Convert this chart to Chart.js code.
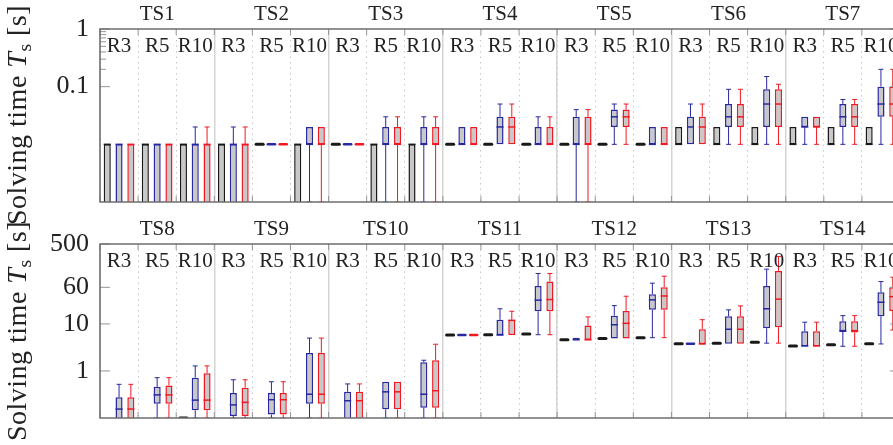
<!DOCTYPE html>
<html>
<head>
<meta charset="utf-8">
<script src="https://cdn.jsdelivr.net/npm/chart.js@4.4.1/dist/chart.umd.min.js"></script>
<style>
  html, body { margin: 0; padding: 0; background: #fff; overflow: hidden; }
  #wrap { position: relative; width: 893px; height: 445px; overflow: hidden; }
  canvas { position: absolute; left: 0; }
  #topChart { top: 0; }
  #botChart { top: 210px; }
  .ytitle {
    position: absolute; left: 17px;
    transform: translate(-50%, -50%) rotate(-90deg);
    white-space: nowrap; font: 28px "Liberation Serif", serif; color: #222;
    letter-spacing: 0.5px; line-height: 1; z-index: 2;
  }
  .ytitle sub { font-size: 0.7em; vertical-align: -0.25em; line-height: 0; }
</style>
</head>
<body>
<div id="wrap">
  <canvas id="topChart" width="900" height="210"></canvas>
  <canvas id="botChart" width="900" height="235"></canvas>
  <div class="ytitle" style="top:115px">Solving time <i>T</i><sub>s</sub> [s]</div>
  <div class="ytitle" style="top:331px">Solving time <i>T</i><sub>s</sub> [s]</div>
</div>
<script>
// group names
const topSets = ['TS1', 'TS2', 'TS3', 'TS4', 'TS5', 'TS6', 'TS7'];
const botSets = ['TS8', 'TS9', 'TS10', 'TS11', 'TS12', 'TS13', 'TS14'];
const runs = ['R3', 'R5', 'R10'];

// y ticks
const topTicks = [0.1, 1];
const topMinor = [0.2, 0.3, 0.4, 0.5, 0.6, 0.7, 0.8, 0.9];
const botTicks = [1, 10, 60, 500];
const botMinor = [];

// box stats per slot: [min, q1, median, q3, max]   (0 = below axis)
const topBlack = [
  [0, 0, 0.01, 0.01, 0.01], [0, 0, 0.01, 0.01, 0.01], [0, 0, 0.01, 0.01, 0.01],
  [0, 0, 0.01, 0.01, 0.01], [0.01, 0.01, 0.01, 0.01, 0.01], [0, 0, 0.01, 0.01, 0.01],
  [0.01, 0.01, 0.01, 0.01, 0.01], [0, 0, 0.01, 0.01, 0.01], [0, 0, 0.01, 0.01, 0.01],
  [0.01, 0.01, 0.01, 0.01, 0.01], [0.01, 0.01, 0.01, 0.01, 0.01], [0.01, 0.01, 0.01, 0.01, 0.01],
  [0.01, 0.01, 0.01, 0.01, 0.01], [0.01, 0.01, 0.01, 0.01, 0.01], [0.01, 0.01, 0.01, 0.01, 0.01],
  [0.01, 0.01, 0.01, 0.02, 0.02], [0.01, 0.01, 0.01, 0.02, 0.02], [0.01, 0.01, 0.01, 0.02, 0.02],
  [0.01, 0.01, 0.01, 0.02, 0.02], [0.01, 0.01, 0.01, 0.02, 0.02], [0.01, 0.01, 0.01, 0.02, 0.02]
];
const topBlue = [
  [0, 0, 0.01, 0.01, 0.01], [0, 0, 0.01, 0.01, 0.01], [0, 0, 0.01, 0.01, 0.02],
  [0, 0, 0.01, 0.01, 0.02], [0.01, 0.01, 0.01, 0.01, 0.01], [0, 0.01, 0.01, 0.02, 0.02],
  [0.01, 0.01, 0.01, 0.01, 0.01], [0, 0.01, 0.01, 0.02, 0.03], [0, 0.01, 0.01, 0.02, 0.03],
  [0.01, 0.01, 0.01, 0.02, 0.02], [0.01, 0.01, 0.02, 0.03, 0.05], [0.01, 0.01, 0.01, 0.02, 0.03],
  [0, 0.01, 0.01, 0.03, 0.04], [0.01, 0.02, 0.03, 0.04, 0.05], [0.01, 0.01, 0.01, 0.02, 0.02],
  [0.01, 0.01, 0.02, 0.03, 0.05], [0.01, 0.02, 0.03, 0.05, 0.09], [0.01, 0.02, 0.05, 0.09, 0.15],
  [0.01, 0.02, 0.02, 0.03, 0.03], [0.01, 0.02, 0.03, 0.05, 0.06], [0.01, 0.03, 0.05, 0.1, 0.2]
];
const topRed = [
  [0, 0, 0.01, 0.01, 0.01], [0, 0, 0.01, 0.01, 0.01], [0, 0, 0.01, 0.01, 0.02],
  [0, 0, 0.01, 0.01, 0.02], [0.01, 0.01, 0.01, 0.01, 0.01], [0, 0.01, 0.01, 0.02, 0.02],
  [0.01, 0.01, 0.01, 0.01, 0.01], [0, 0.01, 0.01, 0.02, 0.03], [0, 0.01, 0.01, 0.02, 0.03],
  [0.01, 0.01, 0.01, 0.02, 0.02], [0.01, 0.01, 0.02, 0.03, 0.05], [0.01, 0.01, 0.01, 0.02, 0.03],
  [0, 0.01, 0.01, 0.03, 0.04], [0.01, 0.02, 0.03, 0.04, 0.05], [0.01, 0.01, 0.01, 0.02, 0.02],
  [0.01, 0.01, 0.02, 0.03, 0.05], [0.01, 0.02, 0.03, 0.05, 0.09], [0.01, 0.02, 0.05, 0.09, 0.11],
  [0.01, 0.02, 0.02, 0.03, 0.03], [0.01, 0.02, 0.03, 0.05, 0.06], [0.01, 0.03, 0.05, 0.1, 0.2]
];

const botBlack = [
  null, null, [0.1, 0.1, 0.1, 0.1, 0.1],
  null, null, null,
  null, null, null,
  [5.8, 5.8, 5.8, 5.8, 5.8], [5.9, 5.9, 5.9, 5.9, 5.9], [6.1, 6.1, 6.1, 6.1, 6.1],
  [4.6, 4.6, 4.6, 4.6, 4.6], [4.9, 4.9, 4.9, 4.9, 4.9], [5.1, 5.1, 5.1, 5.1, 5.1],
  [3.8, 3.8, 3.8, 3.8, 3.8], [3.9, 3.9, 3.9, 3.9, 3.9], [4.1, 4.1, 4.1, 4.1, 4.1],
  [3.4, 3.4, 3.4, 3.4, 3.4], [3.6, 3.6, 3.6, 3.6, 3.6], [3.8, 3.8, 3.8, 3.8, 3.8]
];
const botBlue = [
  [0, 0, 0.155, 0.275, 0.52], [0, 0.2, 0.31, 0.46, 0.72], [0, 0.146, 0.24, 0.72, 1.28],
  [0, 0.11, 0.19, 0.34, 0.65], [0, 0.118, 0.245, 0.34, 0.59], [0, 0.2, 0.32, 2.42, 5],
  [0, 0, 0.233, 0.36, 0.53], [0, 0.153, 0.36, 0.59, 0.59], [0, 0.166, 0.32, 1.53, 1.69],
  [5.8, 5.8, 5.8, 5.8, 5.8], [5.8, 5.8, 5.8, 12.2, 21], [5.9, 18.6, 32, 64, 118],
  [4.6, 4.6, 4.6, 5.1, 5.1], [4.9, 4.9, 9.6, 15, 24.5], [5.1, 19.9, 32.5, 42.8, 73.5],
  [3.8, 3.8, 3.8, 3.8, 3.8], [3.8, 3.8, 7.7, 14.6, 19.9], [3.9, 8.1, 21, 64, 146],
  [3.35, 3.35, 3.4, 7.0, 10.9], [3.35, 6.75, 7.2, 11.4, 15], [3.75, 14.6, 28.9, 47, 79.5]
];
const botRed = [
  [0, 0, 0.155, 0.275, 0.52], [0, 0.2, 0.31, 0.49, 0.72], [0, 0.146, 0.24, 0.89, 1.28],
  [0, 0.11, 0.215, 0.44, 0.65], [0, 0.118, 0.245, 0.34, 0.59], [0, 0.2, 0.32, 2.42, 5],
  [0, 0, 0.233, 0.36, 0.53], [0, 0.153, 0.36, 0.59, 0.59], [0, 0.166, 0.38, 1.69, 3.7],
  [5.8, 5.8, 5.8, 5.8, 5.8], [5.8, 5.8, 11.9, 12.2, 18.6], [5.9, 18.6, 33, 80, 118],
  [4.6, 4.6, 4.6, 9.2, 14.1], [4.9, 4.9, 10.3, 18.9, 38.8], [5.1, 19.9, 39.3, 60.3, 103.5],
  [3.75, 3.75, 3.75, 7.7, 12.3], [3.8, 3.8, 7.7, 14.6, 24.2], [3.9, 8.5, 33.6, 134, 272],
  [3.35, 3.35, 3.4, 7.0, 10.9], [3.35, 6.6, 7.2, 11.4, 15], [7.4, 18.9, 38, 60, 98.5]
];

const FONT = "'Liberation Serif', 'Times New Roman', serif";
const GRAY_FILL = 'rgb(200, 200, 200)';
const COLORS = ['rgb(25, 25, 25)', 'rgb(40, 40, 160)', 'rgb(240, 25, 35)'];

Chart.defaults.font.family = FONT;
Chart.defaults.color = '#222';

// whiskers, medians and flat boxes
const whiskerPlugin = {
  id: 'whiskers',
  afterDatasetsDraw(chart) {
    const { ctx, chartArea: a, scales: { y } } = chart;
    ctx.save();
    ctx.beginPath();
    ctx.rect(a.left, a.top - 2, a.right - a.left, a.bottom - a.top + 2);
    ctx.clip();
    const line = (x1, y1, x2, y2) => { ctx.beginPath(); ctx.moveTo(x1, y1); ctx.lineTo(x2, y2); ctx.stroke(); };
    chart.data.datasets.forEach((ds, di) => {
      const meta = chart.getDatasetMeta(di);
      ds.stats.forEach((s, i) => {
        if (!s) return;
        const bar = meta.data[i];
        const x = bar.x, w = bar.width;
        const [mn, q1, md, q3, mx] = s.map(v => y.getPixelForValue(v));
        ctx.strokeStyle = ds.borderColor;
        ctx.lineWidth = 1;
        const cap = w * 0.35;
        if (s[4] > s[3]) { line(x, q3, x, mx); line(x - cap, mx, x + cap, mx); }
        if (s[0] < s[1]) { line(x, q1, x, mn); line(x - cap, mn, x + cap, mn); }
        if (s[1] === s[3]) {
          ctx.lineWidth = di === 0 ? 3 : 2.5;
          ctx.lineCap = 'round';
        } else {
          ctx.lineWidth = 1.5;
          ctx.lineCap = 'butt';
        }
        line(x - w / 2, md, x + w / 2, md);
        ctx.lineCap = 'butt';
      });
    });
    ctx.restore();
  }
};

// frame, inward ticks and run labels
const decorPlugin = {
  id: 'decor',
  afterDatasetsDraw(chart, args, opts) {
    const { ctx, chartArea: a, scales: { x, y } } = chart;
    const n = chart.data.labels.length;
    ctx.save();
    ctx.strokeStyle = 'rgb(150, 150, 150)';
    ctx.lineWidth = 1;
    for (let i = 0; i <= n; i++) {
      const px = x.getPixelForValue(i - 0.5);
      ctx.beginPath();
      ctx.moveTo(px, a.bottom); ctx.lineTo(px, a.bottom - 6);
      ctx.moveTo(px, a.top); ctx.lineTo(px, a.top + 6);
      ctx.stroke();
    }
    const yTick = (v, len) => {
      const py = y.getPixelForValue(v);
      ctx.beginPath();
      ctx.moveTo(a.left, py); ctx.lineTo(a.left + len, py);
      ctx.moveTo(a.right, py); ctx.lineTo(a.right - len, py);
      ctx.stroke();
    };
    opts.major.forEach(v => yTick(v, 10));
    opts.minor.forEach(v => yTick(v, 6));

    ctx.strokeStyle = 'rgb(110, 110, 110)';
    ctx.lineWidth = 1.5;
    ctx.strokeRect(a.left, a.top, a.right - a.left, a.bottom - a.top);

    ctx.fillStyle = '#222';
    ctx.font = '21px ' + FONT;
    ctx.textAlign = 'center';
    ctx.textBaseline = 'middle';
    chart.data.labels.forEach((lab, i) => {
      ctx.fillText(lab, x.getPixelForValue(i), a.top + 17);
    });
    ctx.restore();
  }
};

function makePanel(id, sets, black, blue, red, yMin, yMax, major, minor, headH, botPad) {
  const slots = sets.flatMap(() => runs);
  // values below the axis (0) start the box at the axis floor
  const mk = (stats, color) => ({
    data: stats.map(s => (s ? [s[1] > 0 ? s[1] : yMin / 2, s[3]] : null)),
    stats: stats,
    backgroundColor: GRAY_FILL,
    borderColor: color,
    borderWidth: 1.5,
    borderSkipped: false,
    barPercentage: 0.6,
    categoryPercentage: 0.93
  });
  return new Chart(document.getElementById(id), {
    type: 'bar',
    data: {
      labels: slots,
      datasets: [mk(black, COLORS[0]), mk(blue, COLORS[1]), mk(red, COLORS[2])]
    },
    options: {
      responsive: false,
      animation: false,
      layout: { padding: { top: 0, right: 0, bottom: botPad, left: 0 } },
      plugins: {
        legend: { display: false },
        tooltip: { enabled: false },
        decor: { major: major, minor: minor }
      },
      scales: {
        x: {
          type: 'category',
          position: 'bottom',
          offset: true,
          ticks: { display: false },
          grid: { offset: true, color: 'rgb(200, 200, 200)', lineWidth: 1, drawTicks: false },
          border: { display: false, dash: [1.5, 4] },
          afterFit(s) { s.height = 0; s.paddingLeft = 0; s.paddingRight = 0; }
        },
        x2: {
          type: 'category',
          labels: sets,
          position: 'top',
          offset: true,
          grid: { offset: true, color: 'rgb(212, 212, 212)', lineWidth: 1.5, drawTicks: false },
          border: { display: false },
          ticks: { font: { size: 21 }, padding: 2, maxRotation: 0, autoSkip: false },
          afterFit(s) { s.height = headH; s.paddingLeft = 0; s.paddingRight = 0; }
        },
        y: {
          type: 'logarithmic',
          position: 'left',
          min: yMin,
          max: yMax,
          grid: { display: false, drawTicks: false },
          border: { display: false },
          ticks: { font: { size: 26 }, padding: 11, callback: v => String(v) },
          afterBuildTicks(s) { s.ticks = major.map(v => ({ value: v })); },
          afterFit(s) { s.width = 100; s.paddingTop = 0; s.paddingBottom = 0; }
        }
      }
    },
    plugins: [whiskerPlugin, decorPlugin]
  });
}

makePanel('topChart', topSets, topBlack, topBlue, topRed, 0.001, 1, topTicks, topMinor, 29, 8);
makePanel('botChart', botSets, botBlack, botBlue, botRed, 0.1, 500, botTicks, botMinor, 34, 27);
</script>
</body>
</html>
